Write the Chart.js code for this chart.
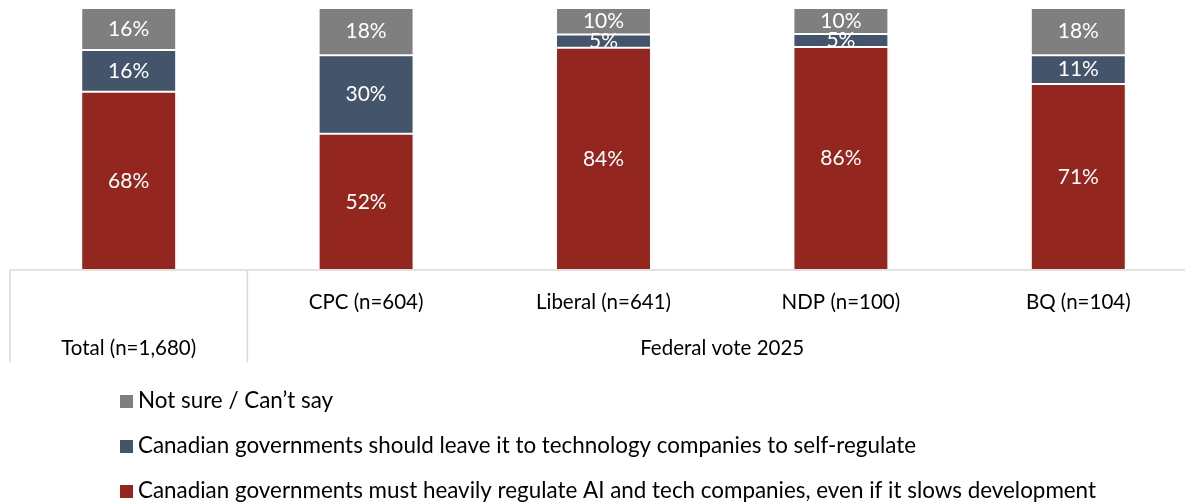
<!DOCTYPE html>
<html>
<head>
<meta charset="utf-8">
<script src="https://cdn.jsdelivr.net/npm/chart.js@4"></script>
<style>
  html, body { margin: 0; padding: 0; background: #fff; overflow: hidden; }
  #wrap { width: 1197px; height: 502px; }
</style>
</head>
<body>
<div id="wrap"><canvas id="chart" width="1197" height="502"></canvas></div>
<script>
// Data
const categories = ['Total (n=1,680)', 'CPC (n=604)', 'Liberal (n=641)', 'NDP (n=100)', 'BQ (n=104)'];
const groupName = 'Federal vote 2025';
const groupFirst = 1; // first category inside the group
const seriesNames = [
    'Canadian governments must heavily regulate AI and tech companies, even if it slows development',
    'Canadian governments should leave it to technology companies to self-regulate',
    'Not sure / Can\u2019t say'
];
const regulate = [68, 52, 84, 86, 71];
const selfRegulate = [16, 30, 5, 5, 11];
const notSure = [16, 18, 10, 10, 18];
const colors = ['#942620', '#44546A', '#7F7F7F'];

const raw = [regulate, selfRegulate, notSure];
const FONT = 'Lato, Carlito, Calibri, sans-serif';

// 100% stacked: each bar is scaled to its own total
function share(series) {
    return series.map(function (v, i) {
        return v / (regulate[i] + selfRegulate[i] + notSure[i]) * 100;
    });
}

const datasets = raw.map(function (series, k) {
    return {
        label: seriesNames[k],
        data: share(series),
        backgroundColor: colors[k],
        borderColor: 'rgba(255,255,255,0.25)',
        borderWidth: 1,
        borderSkipped: false,
        categoryPercentage: 1,
        barPercentage: 0.4
    };
});

// Value labels inside segments
const valueLabels = {
    id: 'valueLabels',
    afterDatasetsDraw: function (chart) {
        const ctx = chart.ctx;
        ctx.save();
        ctx.fillStyle = '#ffffff';
        ctx.font = '21px ' + FONT;
        ctx.textAlign = 'center';
        ctx.textBaseline = 'middle';
        chart.data.datasets.forEach(function (ds, k) {
            chart.getDatasetMeta(k).data.forEach(function (bar, i) {
                const y = (bar.y + bar.base) / 2;
                ctx.fillText(raw[k][i] + '%', bar.x, y);
            });
        });
        ctx.restore();
    }
};

// Category table under the bars + legend
const axisTable = {
    id: 'axisTable',
    afterDraw: function (chart) {
        const ctx = chart.ctx;
        const area = chart.chartArea;
        const x = chart.scales.x;
        const step = x.getPixelForValue(1) - x.getPixelForValue(0);
        const bottom = area.bottom + 92;
        ctx.save();
        ctx.strokeStyle = '#d9d9d9';
        ctx.lineWidth = 1.5;
        ctx.beginPath();
        ctx.moveTo(area.left, area.bottom);
        ctx.lineTo(area.right, area.bottom);
        const splits = [area.left, x.getPixelForValue(groupFirst) - step / 2, area.right];
        splits.forEach(function (sx) {
            ctx.moveTo(sx, area.bottom);
            ctx.lineTo(sx, bottom);
        });
        ctx.stroke();

        ctx.fillStyle = '#000000';
        ctx.font = '20.5px ' + FONT;
        ctx.textAlign = 'center';
        ctx.textBaseline = 'middle';
        categories.forEach(function (c, i) {
            const y = i < groupFirst ? area.bottom + 78 : area.bottom + 32;
            ctx.fillText(c, x.getPixelForValue(i), y);
        });
        ctx.fillText(groupName, (splits[1] + splits[2]) / 2, area.bottom + 78);

        // legend, top to bottom: last series first
        ctx.textAlign = 'left';
        ctx.font = '22.4px ' + FONT;
        for (let n = 0; n < seriesNames.length; n++) {
            const k = seriesNames.length - 1 - n;
            const cy = 401 + n * 45;
            ctx.fillStyle = colors[k];
            ctx.fillRect(120, cy - 6, 13, 13);
            ctx.fillStyle = '#000000';
            ctx.fillText(seriesNames[k], 138, cy);
        }
        ctx.restore();
    }
};

new Chart(document.getElementById('chart'), {
    type: 'bar',
    data: { labels: categories, datasets: datasets },
    options: {
        responsive: false,
        animation: false,
        devicePixelRatio: 1,
        layout: { padding: { top: 8, left: 10, right: 0, bottom: 232 } },
        plugins: {
            legend: { display: false },
            tooltip: { enabled: false }
        },
        scales: {
            x: { stacked: true, display: false },
            y: { stacked: true, display: false, min: 0, max: 100 }
        }
    },
    plugins: [valueLabels, axisTable]
});
</script>
</body>
</html>
